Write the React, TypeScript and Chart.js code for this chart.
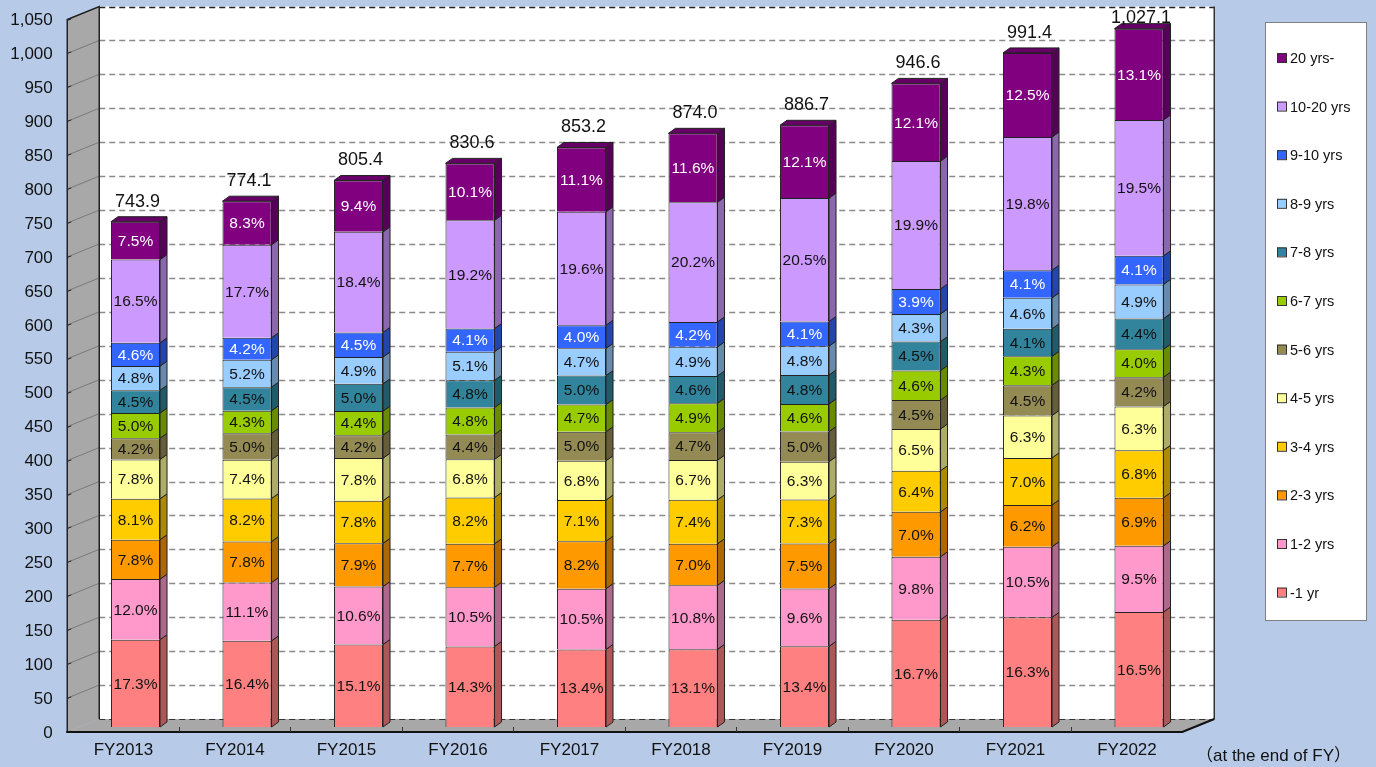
import React, { useEffect, useRef } from 'react';
import { Chart, registerables } from 'chart.js';

Chart.register(...registerables);

const W = 1376;
const H = 767;

// ---- data ----
const years = ['FY2013', 'FY2014', 'FY2015', 'FY2016', 'FY2017', 'FY2018', 'FY2019', 'FY2020', 'FY2021', 'FY2022'];
const totals = [743.9, 774.1, 805.4, 830.6, 853.2, 874.0, 886.7, 946.6, 991.4, 1027.1];

const pctUnder1 = [17.3, 16.4, 15.1, 14.3, 13.4, 13.1, 13.4, 16.7, 16.3, 16.5];
const pct1to2 = [12.0, 11.1, 10.6, 10.5, 10.5, 10.8, 9.6, 9.8, 10.5, 9.5];
const pct2to3 = [7.8, 7.8, 7.9, 7.7, 8.2, 7.0, 7.5, 7.0, 6.2, 6.9];
const pct3to4 = [8.1, 8.2, 7.8, 8.2, 7.1, 7.4, 7.3, 6.4, 7.0, 6.8];
const pct4to5 = [7.8, 7.4, 7.8, 6.8, 6.8, 6.7, 6.3, 6.5, 6.3, 6.3];
const pct5to6 = [4.2, 5.0, 4.2, 4.4, 5.0, 4.7, 5.0, 4.5, 4.5, 4.2];
const pct6to7 = [5.0, 4.3, 4.4, 4.8, 4.7, 4.9, 4.6, 4.6, 4.3, 4.0];
const pct7to8 = [4.5, 4.5, 5.0, 4.8, 5.0, 4.6, 4.8, 4.5, 4.1, 4.4];
const pct8to9 = [4.8, 5.2, 4.9, 5.1, 4.7, 4.9, 4.8, 4.3, 4.6, 4.9];
const pct9to10 = [4.6, 4.2, 4.5, 4.1, 4.0, 4.2, 4.1, 3.9, 4.1, 4.1];
const pct10to20 = [16.5, 17.7, 18.4, 19.2, 19.6, 20.2, 20.5, 19.9, 19.8, 19.5];
const pct20plus = [7.5, 8.3, 9.4, 10.1, 11.1, 11.6, 12.1, 12.1, 12.5, 13.1];

const bandLabels = ['-1 yr', '1-2 yrs', '2-3 yrs', '3-4 yrs', '4-5 yrs', '5-6 yrs', '6-7 yrs', '7-8 yrs', '8-9 yrs', '9-10 yrs', '10-20 yrs', '20 yrs-'];
const bandPcts = [pctUnder1, pct1to2, pct2to3, pct3to4, pct4to5, pct5to6, pct6to7, pct7to8, pct8to9, pct9to10, pct10to20, pct20plus];
const bandColors = ['#ff8080', '#ff99cc', '#ff9900', '#ffcc00', '#ffff99', '#948a54', '#99cc00', '#31849b', '#99ccff', '#3366ff', '#cc99ff', '#800080'];
const bandTextColors = ['#111', '#111', '#111', '#111', '#111', '#111', '#111', '#111', '#111', '#fff', '#111', '#fff'];

const yTicksMax = 1050;
const yTickStep = 50;
const unitNote = '（at the end of FY）';

const FONT = '"Liberation Sans", Arial, "Noto Sans CJK JP", sans-serif';
const BG = '#b7cbe8';

// geometry of the pseudo-3D frame (offsets relative to the bar plane)
const FX = -12.5, FY = 5, BX = 19.5, BY = -8;
const DX = 7, DY = -5;

function darken(hex: string, f: number) {
  const n = parseInt(hex.slice(1), 16);
  const r = Math.round(((n >> 16) & 255) * f);
  const g = Math.round(((n >> 8) & 255) * f);
  const b = Math.round((n & 255) * f);
  return `rgb(${r},${g},${b})`;
}

const threeD = {
  id: 'threeD',
  beforeDraw(chart: any) {
    const { ctx, chartArea } = chart;
    const { left: L, right: R, top: T, bottom: B } = chartArea;
    const y = chart.scales.y;
    ctx.save();
    ctx.fillStyle = BG;
    ctx.fillRect(0, 0, W, H);

    // back plane
    ctx.fillStyle = '#ffffff';
    ctx.fillRect(L + BX, T + BY, R - L, B - T);

    // gridlines on back plane
    ctx.lineWidth = 1.5;
    for (let v = yTickStep; v <= yTicksMax; v += yTickStep) {
      const py = Math.round(y.getPixelForValue(v) + BY) + 0.5;
      ctx.strokeStyle = v === yTicksMax ? '#222' : '#8a8a8a';
      ctx.setLineDash([6, 4]);
      ctx.beginPath();
      ctx.moveTo(L + BX, py);
      ctx.lineTo(R + BX, py);
      ctx.stroke();
    }
    ctx.setLineDash([]);
    // right edge of back plane
    ctx.strokeStyle = '#333';
    ctx.lineWidth = 1.5;
    ctx.beginPath();
    ctx.moveTo(R + BX, T + BY);
    ctx.lineTo(R + BX, B + BY);
    ctx.stroke();

    // left wall
    ctx.fillStyle = '#a8a8a8';
    ctx.beginPath();
    ctx.moveTo(L + FX, T + FY);
    ctx.lineTo(L + BX, T + BY);
    ctx.lineTo(L + BX, B + BY);
    ctx.lineTo(L + FX, B + FY);
    ctx.closePath();
    ctx.fill();
    ctx.strokeStyle = '#7a7a7a';
    ctx.lineWidth = 1;
    for (let v = yTickStep; v <= yTicksMax; v += yTickStep) {
      const py = y.getPixelForValue(v);
      ctx.beginPath();
      ctx.moveTo(L + FX, py + FY);
      ctx.lineTo(L + BX, py + BY);
      ctx.stroke();
    }
    ctx.strokeStyle = '#222';
    ctx.lineWidth = 1.5;
    ctx.beginPath();
    ctx.moveTo(L + FX, B + FY);
    ctx.lineTo(L + FX, T + FY);
    ctx.lineTo(L + BX, T + BY);
    ctx.lineTo(L + BX, B + BY);
    ctx.stroke();
    // ticks on wall edge
    ctx.lineWidth = 1;
    for (let v = 0; v <= yTicksMax; v += yTickStep) {
      const py = Math.round(y.getPixelForValue(v) + FY) + 0.5;
      ctx.beginPath();
      ctx.moveTo(L + FX, py);
      ctx.lineTo(L + FX + 4, py - 1.6);
      ctx.stroke();
    }

    // floor
    ctx.fillStyle = '#a8a8a8';
    ctx.beginPath();
    ctx.moveTo(L + FX, B + FY);
    ctx.lineTo(L + BX, B + BY);
    ctx.lineTo(R + BX, B + BY);
    ctx.lineTo(R + FX, B + FY);
    ctx.closePath();
    ctx.fill();
    ctx.strokeStyle = '#333';
    ctx.lineWidth = 1.2;
    ctx.setLineDash([6, 4]);
    ctx.beginPath();
    ctx.moveTo(L + BX, B + BY + 0.5);
    ctx.lineTo(R + BX, B + BY + 0.5);
    ctx.stroke();
    ctx.setLineDash([]);
    ctx.strokeStyle = '#111';
    ctx.lineWidth = 2.2;
    ctx.beginPath();
    ctx.moveTo(L + FX - 1, B + FY);
    ctx.lineTo(R + FX, B + FY);
    ctx.lineTo(R + BX, B + BY);
    ctx.stroke();
    // category ticks on front axis
    const n = years.length;
    const cw = (R - L) / n;
    ctx.lineWidth = 1;
    ctx.strokeStyle = '#333';
    for (let i = 1; i < n; i++) {
      const px = Math.round(L + i * cw + FX) + 0.5;
      ctx.beginPath();
      ctx.moveTo(px, B + FY);
      ctx.lineTo(px, B + FY - 5);
      ctx.stroke();
    }
    ctx.restore();
  },
  afterDatasetsDraw(chart: any) {
    const { ctx } = chart;
    ctx.save();
    const nds = chart.data.datasets.length;
    for (let d = 0; d < nds; d++) {
      const meta = chart.getDatasetMeta(d);
      const col = bandColors[d];
      meta.data.forEach((el: any, i: number) => {
        const x = el.x, top = el.y, base = el.base, w = el.width;
        const xr = x + w / 2;
        // side face
        ctx.fillStyle = darken(col, 0.68);
        ctx.strokeStyle = '#222';
        ctx.lineWidth = 1;
        ctx.beginPath();
        ctx.moveTo(xr, base);
        ctx.lineTo(xr, top);
        ctx.lineTo(xr + DX, top + DY);
        ctx.lineTo(xr + DX, base + DY);
        ctx.closePath();
        ctx.fill();
        ctx.stroke();
        if (d === nds - 1) {
          const xl = x - w / 2;
          ctx.fillStyle = darken(col, 0.8);
          ctx.beginPath();
          ctx.moveTo(xl, top);
          ctx.lineTo(xl + DX, top + DY);
          ctx.lineTo(xr + DX, top + DY);
          ctx.lineTo(xr, top);
          ctx.closePath();
          ctx.fill();
          ctx.stroke();
          // total label
          ctx.fillStyle = '#111';
          ctx.font = `18px ${FONT}`;
          ctx.textAlign = 'center';
          ctx.textBaseline = 'middle';
          const t = totals[i].toLocaleString('en-US', { minimumFractionDigits: 1, maximumFractionDigits: 1 });
          ctx.fillText(t, x + 2, Math.max(top - 20, 18));
        }
        // percentage label
        ctx.fillStyle = bandTextColors[d];
        ctx.font = `15.5px ${FONT}`;
        ctx.textAlign = 'center';
        ctx.textBaseline = 'middle';
        ctx.fillText(bandPcts[d][i].toFixed(1) + '%', x, (top + base) / 2 + 1);
      });
    }
    ctx.restore();
  },
  afterDraw(chart: any) {
    const { ctx } = chart;
    ctx.save();
    // legend
    const bx = 1265, by = 22, bw = 101, bh = 598;
    ctx.fillStyle = '#ffffff';
    ctx.fillRect(bx, by, bw, bh);
    ctx.strokeStyle = '#7f7f7f';
    ctx.lineWidth = 1;
    ctx.strokeRect(bx + 0.5, by + 0.5, bw, bh);
    ctx.font = `14.5px ${FONT}`;
    ctx.textAlign = 'left';
    ctx.textBaseline = 'middle';
    const nb = bandLabels.length;
    for (let k = 0; k < nb; k++) {
      const idx = nb - 1 - k;
      const cy = 58 + k * 48.6;
      ctx.fillStyle = bandColors[idx];
      ctx.fillRect(1277, cy - 5, 9, 9);
      ctx.strokeStyle = '#333';
      ctx.strokeRect(1277.5, cy - 4.5, 9, 9);
      ctx.fillStyle = '#111';
      ctx.fillText(bandLabels[idx], 1290, cy + 1);
    }
    // unit note
    ctx.font = `17px ${FONT}`;
    ctx.fillStyle = '#111';
    ctx.fillText(unitNote, 1196, 756);
    ctx.restore();
  },
};

export default function App() {
  const ref = useRef<HTMLCanvasElement>(null);
  useEffect(() => {
    document.body.style.margin = '0';
    const canvas = ref.current!;
    const chart = new Chart(canvas, {
      type: 'bar',
      data: {
        labels: years,
        datasets: bandLabels.map((label, d) => ({
          label,
          data: bandPcts[d].map((p, i) => (totals[i] * p) / 100),
          backgroundColor: bandColors[d],
          borderColor: '#222',
          borderWidth: 1,
          barPercentage: 0.44,
          categoryPercentage: 1,
        })),
      },
      options: {
        responsive: false,
        animation: false,
        layout: { padding: { top: 14.5, right: 181.25, left: 0, bottom: 0 } },
        plugins: { legend: { display: false }, tooltip: { enabled: false } },
        scales: {
          x: {
            stacked: true,
            grid: { display: false, drawTicks: false },
            border: { display: false },
            ticks: { padding: 13, labelOffset: -12, color: '#111', font: { family: FONT, size: 17 } },
            afterFit: (s: any) => { s.height = 40; s.paddingLeft = 0; s.paddingRight = 0; },
          },
          y: {
            stacked: true,
            min: 0,
            max: yTicksMax,
            grid: { display: false, drawTicks: false },
            border: { display: false },
            ticks: { stepSize: yTickStep, padding: 27, labelOffset: 6, color: '#111', font: { family: FONT, size: 17 } },
            afterFit: (s: any) => { s.width = 79.75; s.paddingTop = 0; s.paddingBottom = 0; },
          },
        },
      },
      plugins: [threeD],
    } as any);
    return () => chart.destroy();
  }, []);
  return <canvas ref={ref} width={W} height={H} style={{ display: 'block', width: W, height: H }} />;
}
